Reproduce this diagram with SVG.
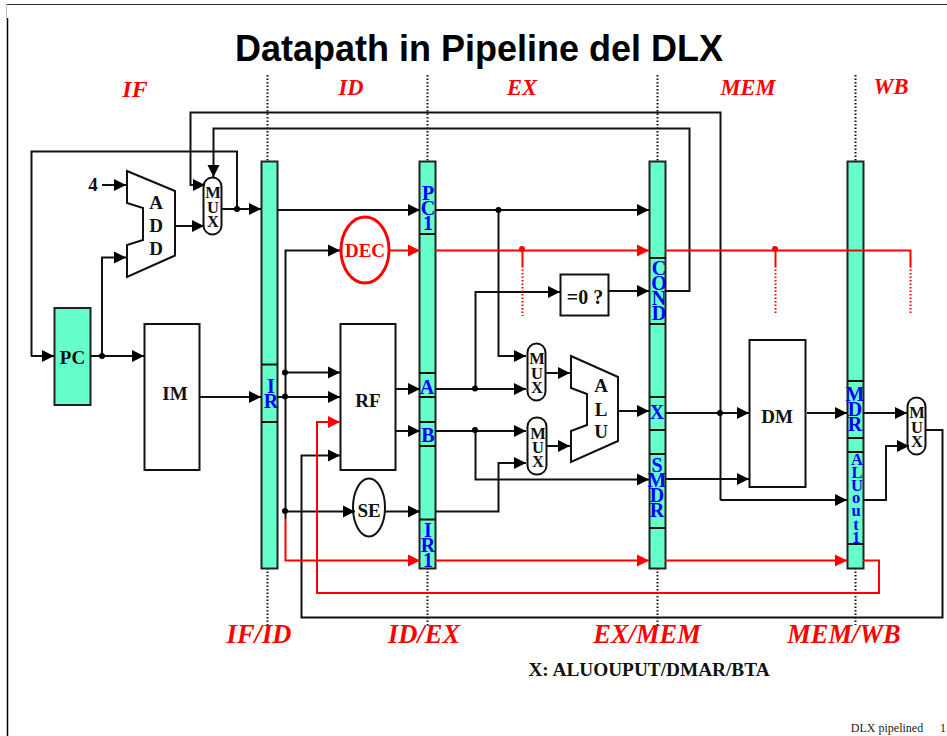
<svg xmlns="http://www.w3.org/2000/svg" width="947" height="736" viewBox="0 0 947 736">
<style>
text{font-family:"Liberation Serif","Times New Roman",serif;font-weight:bold;text-anchor:middle}
.reg{fill:#66ffcc;stroke:#222;stroke-width:2}
.box{fill:#fff;stroke:#111;stroke-width:2}
.c{fill:none;stroke:#111;stroke-width:2}
.r{fill:none;stroke:#f00;stroke-width:2}
.a{marker-end:url(#ah)}
.ar{marker-end:url(#ahr)}
.d{fill:none;stroke:#111;stroke-width:2;stroke-dasharray:1.5 2}
.dr{fill:none;stroke:#f00;stroke-width:2;stroke-dasharray:1.5 2}
.st{fill:#f00;font-style:italic;font-size:22.500px}
.bt{fill:#f00;font-style:italic;font-size:26.500px}
.bl{fill:#00f;font-size:20px}
.bs{fill:#00f;font-size:16.500px}
.k{fill:#111;font-size:19px}
.m{fill:#111;font-size:16.500px}
</style>
<defs>
<marker id="ah" markerUnits="userSpaceOnUse" markerWidth="13" markerHeight="13" refX="12" refY="6.500" orient="auto"><path d="M0 0.500L12 6.500L0 12.500Z" fill="#000"/></marker>
<marker id="ahr" markerUnits="userSpaceOnUse" markerWidth="13" markerHeight="13" refX="12" refY="6.500" orient="auto"><path d="M0 0.500L12 6.500L0 12.500Z" fill="#f00"/></marker>
</defs>
<rect width="947" height="736" fill="#fff"/>
<path d="M6.500 4.500H947" fill="none" stroke="#333" stroke-width="1"/>
<path d="M6.500 4.500V18" fill="none" stroke="#bbb" stroke-width="1"/>
<path d="M7.500 18V736" fill="none" stroke="#000" stroke-width="1.500"/>
<text x="479" y="61" style="font-family:'Liberation Sans',Arial,sans-serif;font-size:36px" fill="#000">Datapath in Pipeline del DLX</text>
<g id="stage-labels">
<text class="st" x="135" y="97" style="font-size:24px">IF</text>
<text class="st" x="351" y="95">ID</text>
<text class="st" x="522" y="95">EX</text>
<text class="st" x="748" y="95">MEM</text>
<text class="st" x="891" y="94">WB</text>
<text class="bt" x="259" y="643">IF/ID</text>
<text class="bt" x="424" y="643">ID/EX</text>
<text class="bt" x="647" y="643">EX/MEM</text>
<text class="bt" x="844" y="643">MEM/WB</text>
<text x="649" y="676" fill="#111" style="font-size:19.300px">X: ALUOUPUT/DMAR/BTA</text>
<text x="887" y="732" fill="#222" style="font-weight:normal;font-size:12px">DLX pipelined</text>
<text x="943" y="732" fill="#222" style="font-weight:normal;font-size:12px">1</text>
</g>
<g id="stage-lines">
<path class="d" d="M267.500 75V161M267.500 568V625M427.500 75V161M427.500 568V625M657.500 75V161M657.500 568V625M855.500 75V161M855.500 568V625"/>
</g>
<g id="reg-IF-ID">
<rect class="reg" x="261.500" y="161.500" width="16" height="407"/>
<path class="c" d="M261.500 364.500H277.500M261.500 422H277.500"/>
<text class="bl" x="271" y="393">I</text><text class="bl" x="271" y="408">R</text>
</g>
<g id="reg-ID-EX">
<rect class="reg" x="419.500" y="161.500" width="16" height="407"/>
<path class="c" d="M419.500 234H435.500M419.500 373H435.500M419.500 397H435.500M419.500 422H435.500M419.500 446H435.500M419.500 519.500H435.500"/>
<text class="bl" x="428" y="200">P</text><text class="bl" x="428" y="215">C</text><text class="bl" x="428" y="230">1</text>
<text class="bl" x="427" y="394">A</text><text class="bl" x="428" y="442">B</text>
<text class="bl" x="428" y="537">I</text><text class="bl" x="428" y="552">R</text><text class="bl" x="428" y="567">1</text>
</g>
<g id="reg-EX-MEM">
<rect class="reg" x="649.500" y="161.500" width="16" height="407"/>
<path class="c" d="M649.500 258H665.500M649.500 324H665.500M649.500 397H665.500M649.500 430H665.500M649.500 454H665.500M649.500 528H665.500"/>
<text class="bl" x="659" y="275">C</text><text class="bl" x="659" y="290">O</text><text class="bl" x="659" y="305">N</text><text class="bl" x="659" y="320">D</text>
<text class="bl" x="657" y="419">X</text>
<text class="bl" x="657" y="472">S</text><text class="bl" x="657" y="487">M</text><text class="bl" x="657" y="502">D</text><text class="bl" x="657" y="517">R</text>
</g>
<g id="reg-MEM-WB">
<rect class="reg" x="847.500" y="161.500" width="16" height="407"/>
<path class="c" d="M847.500 381H863.500M847.500 438H863.500M847.500 452H863.500M847.500 544H863.500"/>
<text class="bl" x="855" y="401">M</text><text class="bl" x="855" y="416">D</text><text class="bl" x="855" y="431">R</text>
<text class="bs" x="857" y="465">A</text><text class="bs" x="857" y="478">L</text><text class="bs" x="857" y="491">U</text><text class="bs" x="856" y="503">o</text><text class="bs" x="856" y="516">u</text><text class="bs" x="856" y="530">t</text><text class="bs" x="856" y="543">1</text>
</g>
<g id="node-PC"><rect x="54.500" y="308" width="36" height="97" fill="#66ffcc" stroke="#222" stroke-width="2"/><text class="k" x="72.500" y="364">PC</text></g>
<g id="node-IM"><rect class="box" x="144.500" y="324" width="55" height="146"/><text class="k" x="175" y="400">IM</text></g>
<g id="node-RF"><rect class="box" x="340.500" y="324" width="55" height="146"/><text class="k" x="368" y="407">RF</text></g>
<g id="node-DM"><rect class="box" x="749.500" y="340" width="56" height="147"/><text class="k" x="777" y="423">DM</text></g>
<g id="node-zero"><rect class="box" x="560.500" y="274.500" width="48" height="41"/><text class="k" x="585" y="304" style="font-size:20px">=0 ?</text></g>
<g id="node-SE"><ellipse class="box" cx="369" cy="507.500" rx="16" ry="29"/><text class="k" x="369" y="517">SE</text></g>
<g id="node-DEC"><ellipse cx="365" cy="250" rx="24" ry="33" fill="#fff" stroke="#f00" stroke-width="3"/><text x="365" y="257" fill="#f00" style="font-size:19px">DEC</text></g>
<g id="node-ADD"><path class="box" d="M127 171L175 191V255.500L127 277V245L143 240V208L127 203Z"/><text class="k" x="156" y="209">A</text><text class="k" x="156" y="232">D</text><text class="k" x="156" y="255">D</text></g>
<g id="node-ALU"><path class="box" d="M571 356L618 377V441L571 462V431L587 425V394L571 388Z"/><text class="k" x="601" y="392">A</text><text class="k" x="601" y="416">L</text><text class="k" x="601" y="438">U</text></g>
<g id="mux-IF"><rect class="box" x="203.500" y="177.500" width="18" height="57" rx="9"/><text class="m" x="213" y="198">M</text><text class="m" x="213" y="213">U</text><text class="m" x="213" y="227">X</text></g>
<g id="mux-A"><rect class="box" x="527.500" y="343.500" width="18" height="57" rx="9"/><text class="m" x="537" y="364">M</text><text class="m" x="537" y="379">U</text><text class="m" x="537" y="393">X</text></g>
<g id="mux-B"><rect class="box" x="527.500" y="417.500" width="19" height="57" rx="9"/><text class="m" x="538" y="439">M</text><text class="m" x="538" y="453">U</text><text class="m" x="538" y="467">X</text></g>
<g id="mux-WB"><rect class="box" x="907.500" y="397.500" width="18" height="57" rx="9"/><text class="m" x="917" y="418">M</text><text class="m" x="917" y="433">U</text><text class="m" x="917" y="447">X</text></g>
<g id="const-4"><text class="k" x="93" y="191">4</text></g>
<g id="connectors">
<path class="c a" d="M31 356H54"/>
<path class="c" d="M237 209V151.500H31.500V356"/>
<path class="c a" d="M90 356H144"/>
<path class="c a" d="M102 356V257.500H126"/>
<path class="c a" d="M102 185H126"/>
<path class="c a" d="M175 226H204"/>
<path class="c a" d="M720.500 500H847M720.500 500V112.500H190.500V185H205" style="marker-end:none"/>
<path class="c a" d="M190.500 185H205"/>
<path class="c a" d="M720.500 500H847"/>
<path class="c a" d="M665 291H689.500V128.500H213.500V177"/>
<path class="c a" d="M221 209H261"/>
<path class="c a" d="M200 397H261"/>
<path class="c a" d="M277 210H420"/>
<path class="c a" d="M435 210H649"/>
<path class="c a" d="M498.500 210V356H526"/>
<path class="c a" d="M285.500 519V250.500H340"/>
<path class="c a" d="M285 372.500H340"/>
<path class="c a" d="M277 397H340"/>
<path class="c a" d="M285 511.500H355"/>
<path class="c a" d="M385 511.500H420"/>
<path class="c a" d="M926 430H942.500V617.500H301.500V455.500H340"/>
<path class="c a" d="M395 389H420"/>
<path class="c a" d="M395 431H420"/>
<path class="c a" d="M435 389H526"/>
<path class="c a" d="M435 431H526"/>
<path class="c a" d="M475.500 389V292H560"/>
<path class="c a" d="M475.500 431V479.500H649"/>
<path class="c a" d="M435 511.500H498.500V463H526"/>
<path class="c a" d="M608 291H649"/>
<path class="c a" d="M545 373H570"/>
<path class="c a" d="M546 446H570"/>
<path class="c a" d="M618 411H649"/>
<path class="c a" d="M665 413H749"/>
<path class="c a" d="M665 479H749"/>
<path class="c a" d="M807 413H847"/>
<path class="c a" d="M863 413H907"/>
<path class="c a" d="M863 500H886V446H909"/>
<path class="r ar" d="M285.500 519V560.500H420"/>
<path class="r ar" d="M435 560.500H649"/>
<path class="r ar" d="M665 560.500H847"/>
<path class="r ar" d="M863 560.500H879V593H317V422H340"/>
<path class="r ar" d="M389 250.500H420"/>
<path class="r ar" d="M435 250.500H649"/>
<path class="r" d="M665 250.500H910.500V266"/>
<path class="r" d="M522.500 250.500V266M775.500 250.500V266"/>
<path class="dr" d="M522.500 266V316M775.500 266V315M910.500 266V313"/>
<g fill="#000">
<circle cx="102" cy="356" r="3"/><circle cx="237" cy="209" r="3"/><circle cx="498.500" cy="210" r="3"/>
<circle cx="285" cy="372.500" r="3"/><circle cx="285" cy="396.500" r="3"/><circle cx="285" cy="511" r="3"/>
<circle cx="475" cy="388.500" r="3"/><circle cx="475" cy="430" r="3"/><circle cx="720" cy="413" r="3"/>
</g>
<g fill="#f00"><circle cx="522" cy="249" r="3"/><circle cx="775" cy="249" r="3"/></g>
</g>
</svg>
